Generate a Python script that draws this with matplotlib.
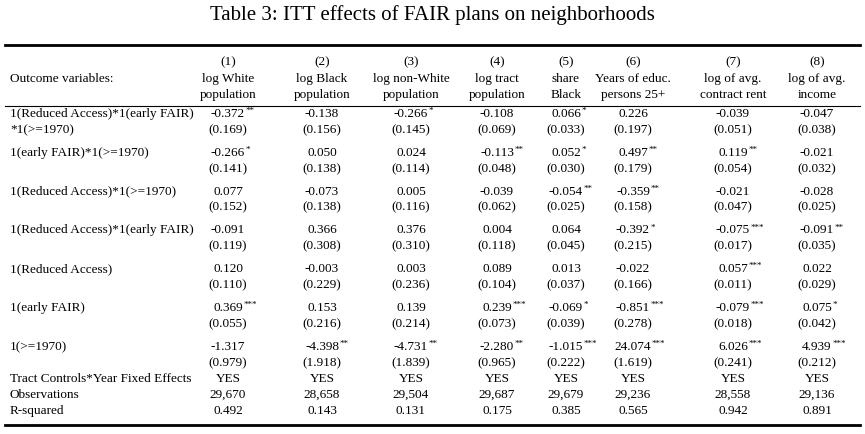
import matplotlib
matplotlib.use("Agg")
import matplotlib.pyplot as plt

title = "Table 3: ITT effects of FAIR plans on neighborhoods"
col_nums = ["(1)", "(2)", "(3)", "(4)", "(5)", "(6)", "(7)", "(8)"]
col_l1 = ["log White", "log Black", "log non-White", "log tract", "share", "Years of educ.", "log of avg.", "log of avg."]
col_l2 = ["population", "population", "population", "population", "Black", "persons 25+", "contract rent", "income"]
row_labels = ["1(Reduced Access)*1(early FAIR)", "1(early FAIR)*1(>=1970)", "1(Reduced Access)*1(>=1970)",
              "1(Reduced Access)*1(early FAIR)", "1(Reduced Access)", "1(early FAIR)", "1(>=1970)"]
coefs = [
    ["-0.372**", "-0.138", "-0.266*", "-0.108", "0.066*", "0.226", "-0.039", "-0.047"],
    ["-0.266*", "0.050", "0.024", "-0.113**", "0.052*", "0.497**", "0.119**", "-0.021"],
    ["0.077", "-0.073", "0.005", "-0.039", "-0.054**", "-0.359**", "-0.021", "-0.028"],
    ["-0.091", "0.366", "0.376", "0.004", "0.064", "-0.392*", "-0.075***", "-0.091**"],
    ["0.120", "-0.003", "0.003", "0.089", "0.013", "-0.022", "0.057***", "0.022"],
    ["0.369***", "0.153", "0.139", "0.239***", "-0.069*", "-0.851***", "-0.079***", "0.075*"],
    ["-1.317", "-4.398**", "-4.731**", "-2.280**", "-1.015***", "24.074***", "6.026***", "4.939***"],
]
ses = [
    ["(0.169)", "(0.156)", "(0.145)", "(0.069)", "(0.033)", "(0.197)", "(0.051)", "(0.038)"],
    ["(0.141)", "(0.138)", "(0.114)", "(0.048)", "(0.030)", "(0.179)", "(0.054)", "(0.032)"],
    ["(0.152)", "(0.138)", "(0.116)", "(0.062)", "(0.025)", "(0.158)", "(0.047)", "(0.025)"],
    ["(0.119)", "(0.308)", "(0.310)", "(0.118)", "(0.045)", "(0.215)", "(0.017)", "(0.035)"],
    ["(0.110)", "(0.229)", "(0.236)", "(0.104)", "(0.037)", "(0.166)", "(0.011)", "(0.029)"],
    ["(0.055)", "(0.216)", "(0.214)", "(0.073)", "(0.039)", "(0.278)", "(0.018)", "(0.042)"],
    ["(0.979)", "(1.918)", "(1.839)", "(0.965)", "(0.222)", "(1.619)", "(0.241)", "(0.212)"],
]
fe_row = ["YES"] * 8
observations = ["29,670", "28,658", "29,504", "29,687", "29,679", "29,236", "28,558", "29,136"]
r_squared = ["0.492", "0.143", "0.131", "0.175", "0.385", "0.565", "0.942", "0.891"]

fig = plt.figure(figsize=(8.65, 4.34), dpi=100)
ax = fig.add_axes([0, 0, 1, 1])
ax.set_xlim(0, 865); ax.set_ylim(434, 0); ax.axis("off")
F = "Liberation Serif"
fs = 9.5

ax.text(432, 15, title, ha="center", va="center", fontsize=15, family=F)
ax.plot([5, 860], [45, 45], color="black", lw=2)
ax.plot([5, 860], [106, 106], color="black", lw=0.8)
ax.plot([5, 860], [425, 425], color="black", lw=2)

xs = [228, 322, 411, 497, 566, 633, 733, 817]
stars = []

def num(x, y, s):
    base = s.rstrip("*"); st = s[len(base):]
    t = ax.text(x, y, base, ha="center", va="center", fontsize=fs, family=F)
    if st:
        stars.append((t, y, st))

for i, x in enumerate(xs):
    ax.text(x, 62, col_nums[i], ha="center", va="center", fontsize=fs, family=F)
    ax.text(x, 79, col_l1[i], ha="center", va="center", fontsize=fs, family=F)
    ax.text(x, 95, col_l2[i], ha="center", va="center", fontsize=fs, family=F)
ax.text(10, 79, "Outcome variables:", ha="left", va="center", fontsize=fs, family=F)

y0 = 114
for r in range(7):
    yc = y0 + r * 38.8
    ax.text(10, yc, row_labels[r], ha="left", va="center", fontsize=fs, family=F)
    if r == 0:
        ax.text(10, yc + 16, "*1(>=1970)", ha="left", va="center", fontsize=fs, family=F)
    for i, x in enumerate(xs):
        num(x, yc, coefs[r][i])
        ax.text(x, yc + 16, ses[r][i], ha="center", va="center", fontsize=fs, family=F)

fig.canvas.draw()
r_ = fig.canvas.get_renderer()
for t, y, st in stars:
    bb = t.get_window_extent(r_)
    ax.text(bb.x1 + 0.5, y - 3, st, ha="left", va="center", fontsize=6.5, family=F)

for lab, vals, y in [("Tract Controls*Year Fixed Effects", fe_row, 379),
                     ("Observations", observations, 395),
                     ("R-squared", r_squared, 411)]:
    ax.text(10, y, lab, ha="left", va="center", fontsize=fs, family=F)
    for i, x in enumerate(xs):
        ax.text(x, y, vals[i], ha="center", va="center", fontsize=fs, family=F)

fig.savefig("out.png", dpi=100)
